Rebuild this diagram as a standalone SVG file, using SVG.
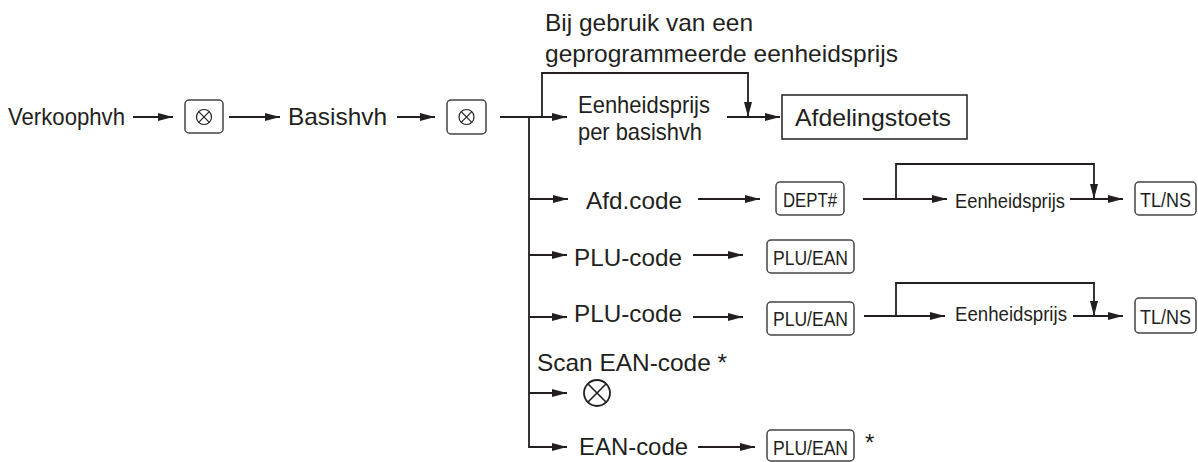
<svg xmlns="http://www.w3.org/2000/svg" width="1198" height="462" viewBox="0 0 1198 462">
<style>
.t{font-family:"Liberation Sans",Arial,sans-serif;font-size:24px;fill:#231f20}
.s{font-family:"Liberation Sans",Arial,sans-serif;font-size:20px;fill:#231f20}
.k{font-family:"Liberation Sans",Arial,sans-serif;font-size:21px;fill:#231f20;text-anchor:start}
.key{fill:#fff;stroke:#444;stroke-width:1.5}
.ln{fill:none;stroke:#231f20;stroke-width:1.8}
</style>
<defs>
<marker id="ah" viewBox="0 0 15 8" refX="15" refY="4" markerWidth="15" markerHeight="8" markerUnits="userSpaceOnUse" orient="auto">
<path d="M0,0 L15,4 L0,8 z" fill="#231f20"/>
</marker>
</defs>
<rect width="1198" height="462" fill="#fff"/>

<g id="connectors">
<line class="ln" x1="133" y1="117" x2="173" y2="117" marker-end="url(#ah)"/>
<line class="ln" x1="229" y1="117" x2="280" y2="117" marker-end="url(#ah)"/>
<line class="ln" x1="397" y1="117" x2="435" y2="117" marker-end="url(#ah)"/>
<line class="ln" x1="500" y1="117" x2="567" y2="117" marker-end="url(#ah)"/>
<polyline class="ln" points="529,117 529,447 567,447" marker-end="url(#ah)"/>
<polyline class="ln" points="542,117 542,73 748,73 748,117" marker-end="url(#ah)"/>
<line class="ln" x1="727" y1="117" x2="780" y2="117" marker-end="url(#ah)"/>
<line class="ln" x1="529" y1="199" x2="568" y2="199" marker-end="url(#ah)"/>
<line class="ln" x1="698" y1="199" x2="760" y2="199" marker-end="url(#ah)"/>
<line class="ln" x1="863" y1="199" x2="947" y2="199" marker-end="url(#ah)"/>
<polyline class="ln" points="896,199 896,164 1094,164 1094,199" marker-end="url(#ah)"/>
<line class="ln" x1="1070" y1="199" x2="1123" y2="199" marker-end="url(#ah)"/>
<line class="ln" x1="529" y1="255" x2="567" y2="255" marker-end="url(#ah)"/>
<line class="ln" x1="693" y1="255" x2="743" y2="255" marker-end="url(#ah)"/>
<line class="ln" x1="529" y1="317" x2="567" y2="317" marker-end="url(#ah)"/>
<line class="ln" x1="693" y1="317" x2="743" y2="317" marker-end="url(#ah)"/>
<line class="ln" x1="864" y1="316" x2="945" y2="316" marker-end="url(#ah)"/>
<polyline class="ln" points="896,316 896,283 1094,283 1094,316" marker-end="url(#ah)"/>
<line class="ln" x1="1073" y1="316" x2="1123" y2="316" marker-end="url(#ah)"/>
<line class="ln" x1="529" y1="393" x2="567" y2="393" marker-end="url(#ah)"/>
<line class="ln" x1="698" y1="447" x2="755" y2="447" marker-end="url(#ah)"/>
</g>

<g id="n-verkoophvh"><text class="t" x="8" y="125" textLength="117" lengthAdjust="spacingAndGlyphs">Verkoophvh</text></g>
<g id="n-key1">
<rect class="key" x="185" y="100" width="38" height="33" rx="4"/>
<circle cx="204" cy="117" r="7.5" fill="none" stroke="#231f20" stroke-width="1.2"/>
<path d="M198.7,111.7 L209.3,122.3 M209.3,111.7 L198.7,122.3" stroke="#231f20" stroke-width="1.2"/>
</g>
<g id="n-basishvh"><text class="t" x="288" y="125" textLength="99" lengthAdjust="spacingAndGlyphs">Basishvh</text></g>
<g id="n-key2">
<rect class="key" x="447" y="100" width="39" height="34" rx="4"/>
<circle cx="466.5" cy="117" r="7.5" fill="none" stroke="#231f20" stroke-width="1.2"/>
<path d="M461.2,111.7 L471.8,122.3 M471.8,111.7 L461.2,122.3" stroke="#231f20" stroke-width="1.2"/>
</g>
<g id="n-note">
<text class="t" x="545" y="31" textLength="208" lengthAdjust="spacingAndGlyphs">Bij gebruik van een</text>
<text class="t" x="545" y="62" textLength="353" lengthAdjust="spacingAndGlyphs">geprogrammeerde eenheidsprijs</text>
</g>
<g id="n-eenheid1">
<text class="t" x="578" y="113" textLength="132" lengthAdjust="spacingAndGlyphs">Eenheidsprijs</text>
<text class="t" x="578" y="140" textLength="124" lengthAdjust="spacingAndGlyphs">per basishvh</text>
</g>
<g id="n-afdelingstoets">
<rect x="782" y="95" width="185" height="44" fill="#fff" stroke="#231f20" stroke-width="1.5"/>
<text class="t" x="795" y="126" textLength="156" lengthAdjust="spacingAndGlyphs">Afdelingstoets</text>
</g>

<g id="n-afdcode"><text class="t" x="586" y="209" textLength="96" lengthAdjust="spacingAndGlyphs">Afd.code</text></g>
<g id="n-dept">
<rect class="key" x="776" y="182" width="68" height="33" rx="4"/>
<text class="k" x="783" y="207" textLength="54" lengthAdjust="spacingAndGlyphs">DEPT#</text>
</g>
<g id="n-eenheid2"><text class="s" x="955" y="208" textLength="110" lengthAdjust="spacingAndGlyphs">Eenheidsprijs</text></g>
<g id="n-tlns1">
<rect class="key" x="1135" y="182" width="61" height="33" rx="4"/>
<text class="k" x="1140" y="207" textLength="51" lengthAdjust="spacingAndGlyphs">TL/NS</text>
</g>

<g id="n-plucode1"><text class="t" x="574" y="266" textLength="108" lengthAdjust="spacingAndGlyphs">PLU-code</text></g>
<g id="n-pluean1">
<rect class="key" x="767" y="240" width="87" height="33" rx="4"/>
<text class="k" x="773" y="265" textLength="75" lengthAdjust="spacingAndGlyphs">PLU/EAN</text>
</g>

<g id="n-plucode2"><text class="t" x="574" y="322" textLength="108" lengthAdjust="spacingAndGlyphs">PLU-code</text></g>
<g id="n-pluean2">
<rect class="key" x="767" y="302" width="87" height="33" rx="4"/>
<text class="k" x="773" y="326" textLength="75" lengthAdjust="spacingAndGlyphs">PLU/EAN</text>
</g>
<g id="n-eenheid3"><text class="s" x="955" y="321" textLength="112" lengthAdjust="spacingAndGlyphs">Eenheidsprijs</text></g>
<g id="n-tlns2">
<rect class="key" x="1135" y="298" width="61" height="35" rx="4"/>
<text class="k" x="1140" y="324" textLength="51" lengthAdjust="spacingAndGlyphs">TL/NS</text>
</g>

<g id="n-scan">
<text class="t" x="537" y="371" textLength="190" lengthAdjust="spacingAndGlyphs">Scan EAN-code *</text>
<circle cx="597" cy="393" r="13" fill="none" stroke="#231f20" stroke-width="1.8"/>
<path d="M587.8,383.8 L606.2,402.2 M606.2,383.8 L587.8,402.2" stroke="#231f20" stroke-width="1.6"/>
</g>

<g id="n-eancode"><text class="t" x="579" y="455" textLength="109" lengthAdjust="spacingAndGlyphs">EAN-code</text></g>
<g id="n-pluean3">
<rect class="key" x="767" y="430" width="87" height="31" rx="4"/>
<text class="k" x="773" y="455" textLength="75" lengthAdjust="spacingAndGlyphs">PLU/EAN</text>
<text class="t" x="865" y="451">*</text>
</g>
</svg>
